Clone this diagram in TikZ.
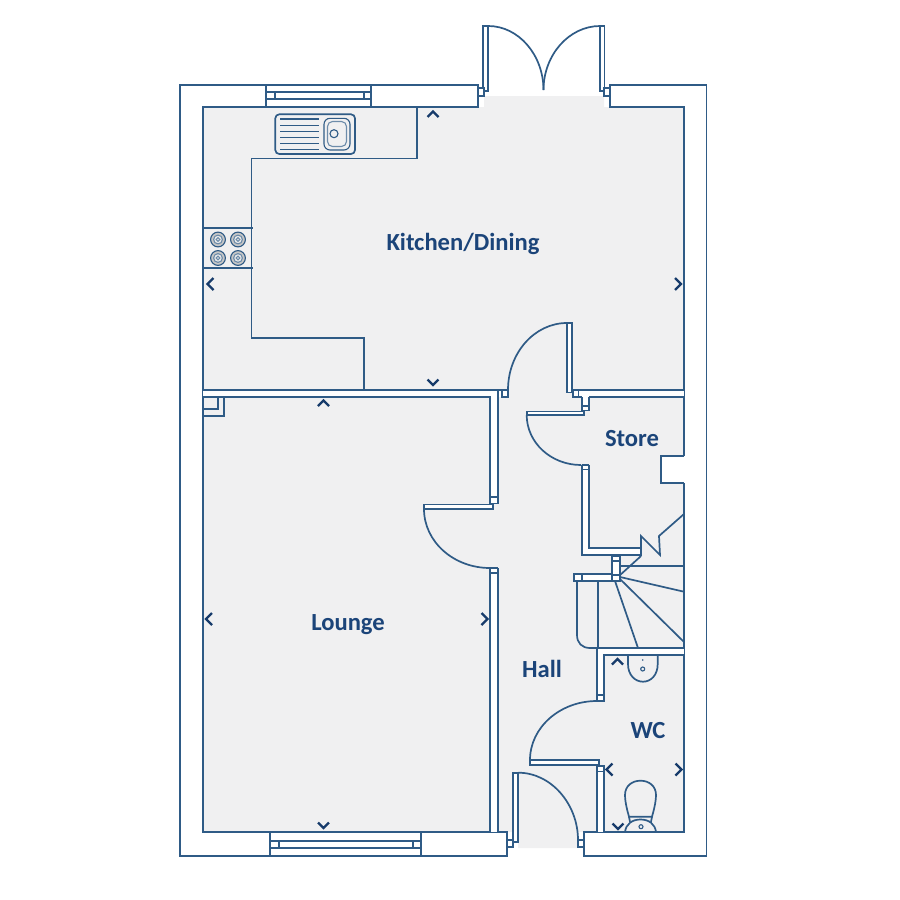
\documentclass[tikz,border=0pt]{standalone}
\usepackage{fontspec}
\setmainfont{Carlito}
\definecolor{wallc}{HTML}{2F5B86}
\definecolor{greyc}{HTML}{F0F0F1}
\definecolor{textc}{HTML}{1B4479}
\definecolor{chevc}{HTML}{173B6B}
\tikzset{
  line/.style={draw=wallc,line width=1.7pt,line join=miter},
  wall/.style={line,fill=white},
  thin/.style={draw=wallc,line width=1.1pt},
  chev/.style={draw=chevc,line width=2.3pt},
  room/.style={text=textc,font=\bfseries\fontsize{24.6}{27}\selectfont,inner sep=0pt}
}
\begin{document}
\begin{tikzpicture}[x=1pt,y=-1pt]
\useasboundingbox (0,0) rectangle (900,900);
\fill[white] (0,0) rectangle (900,900);
% floor
\fill[greyc] (203,107) -- (484,107) -- (484,96) -- (604,96) -- (604,107) -- (684,107) -- (684,832) -- (578,832) -- (578,848) -- (518,848) -- (518,832) -- (203,832) -- cycle;
% outer wall
\draw[line] (477.7,85) -- (180,85) -- (180,856) -- (506.7,856) -- (506.7,832) -- (203,832) -- (203,107) -- (477.7,107) -- cycle;
\draw[line] (610,85) -- (706.5,85) -- (706.5,856) -- (584,856) -- (584,832) -- (684,832) -- (684,107) -- (610,107) -- cycle;
% top window
\draw[line] (266.3,85) -- (266.3,107) (371.3,85) -- (371.3,107) (266.3,92.3) -- (371.3,92.3) (266.3,99.3) -- (371.3,99.3) (275,92.3) -- (275,99.3) (364,92.3) -- (364,99.3);
% bottom window
\draw[line] (270,832) -- (270,856) (421,832) -- (421,856) (270,841) -- (421,841) (270,847.7) -- (421,847.7) (279,841) -- (279,847.7) (413,841) -- (413,847.7);
% french doors
\draw[wall] (483.3,26) rectangle (488.3,91);
\draw[wall] (600,26) rectangle (604.6,91);
\draw[wall] (477.7,88) rectangle (484,96);
\draw[wall] (604,88) rectangle (610,96);
\draw[line] (488.3,26) .. controls (518.6,26) and (543.5,55) .. (543.5,90);
\draw[line] (600,26) .. controls (569,26) and (543.5,55) .. (543.5,90);
% kitchen units
\draw[line] (417.3,107) -- (417.3,158.5) -- (251.5,158.5) -- (251.5,338) -- (364,338) -- (364,390);
\draw[line] (203,227.7) -- (253,227.7) (203,268.3) -- (253,268.3);
\foreach \cx/\cy in {218/239.5,238/239.5,218/258,238/258}{
  \draw[thin,fill=gray!45] (\cx,\cy) circle (7.4);
  \draw[thin,draw=wallc!70,fill=gray!15] (\cx,\cy) circle (4.4);
  \draw[thin,draw=wallc!70] (\cx,\cy) circle (1.8);
}
% sink
\draw[line,rounded corners=4pt] (275.3,114.3) rectangle (355,154);
\foreach \dy in {119,125.7,131.7,137.3,143.3,149.3}{\draw[thin] (280,\dy) -- (319,\dy);}
\draw[thin,rounded corners=6pt] (324,118.3) rectangle (350,150);
\draw[thin,draw=wallc!70,rounded corners=5pt] (327.5,121.5) rectangle (346.5,146.5);
\draw[thin] (334,133.7) circle (4);
% kitchen/lounge wall
\path[fill=white] (203,390) rectangle (502,397);
\path[fill=white] (490,397) rectangle (497.7,497);
\draw[line] (203,390) -- (502,390) (203,397) -- (490,397) -- (490,497) (497.7,397) -- (497.7,497) (497.7,390) -- (497.7,397);
\draw[wall] (502,390) rectangle (508,397);
\draw[line,line width=2.2pt] (203,390) -- (502,390);
% cupboard corner
\draw[line] (203,416) -- (224.3,416) -- (224.3,397);
\draw[line] (203,409) -- (217.7,409) -- (217.7,397);
% lounge door
\draw[wall] (490,497) rectangle (497.7,503.5);
\draw[wall] (424,504.5) rectangle (493,509);
\draw[line] (424,509) .. controls (424,541.6) and (453.5,568) .. (490,568);
\path[fill=white] (490,568) rectangle (497.7,832);
\draw[line] (490,568) -- (490,832) (497.7,568) -- (497.7,832) (490,568) -- (497.7,568) (490,573) -- (497.7,573);
% kitchen door
\draw[line] (508,390) .. controls (508,353) and (534.4,323) .. (567,323);
\draw[wall] (566.7,323) rectangle (571.7,392.5);
\draw[wall] (572.7,390) rectangle (579,397);
% store north wall
\path[fill=white] (579,390) rectangle (684,397);
\path[fill=white] (581.7,397) rectangle (589,406);
\draw[line] (579,390) -- (684,390) (589,397) -- (684,397) (581.7,397) -- (579,397) (581.7,397) -- (581.7,406) (589,397) -- (589,406);
\draw[wall] (582,406) rectangle (589,410.5);
% store door
\draw[wall] (526.7,411.5) rectangle (584.3,415);
\draw[line] (526.7,415) .. controls (526.7,442.6) and (551,465) .. (581,465);
% store west wall
\path[fill=white] (581.7,465) rectangle (589.3,555);
\path[fill=white] (581.7,548.3) rectangle (641,555);
\draw[line] (581.7,465) -- (589.3,465) (581.7,469.5) -- (589.3,469.5) (581.7,465) -- (581.7,555) -- (641,555) (589.3,465) -- (589.3,548.3) -- (641,548.3);
% chimney notch
\path[fill=white] (661,456) rectangle (686,483);
\draw[line] (684,456) -- (661,456) -- (661,483) -- (684,483);
% stairs
\draw[line] (641,556) -- (641,536) -- (660,555) -- (659,536) -- (684,514);
\draw[line] (641,556) -- (619,576);
\draw[line] (620,565.7) -- (684,565.7);
\draw[wall] (612.3,556) rectangle (620,561);
\draw[wall] (612.3,561) rectangle (620,575);
\draw[wall] (574,574.3) rectangle (612.3,580.7);
\draw[line] (581.7,574.3) -- (581.7,580.7);
\draw[wall] (612.3,575) rectangle (620,580.7);
\draw[line] (620,577) -- (684,591.7) (620,579) -- (684,642) (615,581) -- (638,648);
\draw[line] (597.7,581) -- (597.7,648);
\draw[line] (577,581) -- (577,635) .. controls (577,643) and (582,648) .. (590,648) -- (684,648);
% stair/WC wall
\path[fill=white] (596.7,648) rectangle (684,655);
\path[fill=white] (596.7,655) rectangle (604.3,695);
\draw[line] (684,648) -- (596.7,648) -- (596.7,695) (684,655) -- (604.3,655) -- (604.3,695);
\draw[wall] (596.7,695) rectangle (604.3,701);
% WC door
\draw[line] (597,701) .. controls (560,701) and (530,727.4) .. (530,760);
\draw[wall] (530,760) rectangle (599,765);
\draw[wall] (597,766) rectangle (604.3,772);
\path[fill=white] (597,772) rectangle (604.3,832);
\draw[line] (597,772) -- (597,832) (604.3,772) -- (604.3,832);
% front door
\draw[wall] (513.3,772.7) rectangle (518.3,842);
\draw[wall] (506.7,840) rectangle (513,847);
\draw[wall] (577.7,840) rectangle (584,847);
\draw[line] (518.3,772.7) .. controls (551,772.7) and (578,804) .. (578,840);
% WC basin
\draw[line] (628,655) -- (628,664) .. controls (628,675) and (635,681.7) .. (643,681.7) .. controls (651,681.7) and (657.7,675) .. (657.7,664) -- (657.7,655);
\draw[thin] (642.7,669) circle (2);
\fill[wallc] (642.7,660) circle (0.9);
% toilet
\draw[line] (629,816.7) .. controls (626,806) and (625,800) .. (625,795) .. controls (625,786) and (632,780.7) .. (640.5,780.7) .. controls (649,780.7) and (656,786) .. (656,795) .. controls (656,800) and (655,806) .. (652,816.7) -- cycle;
\draw[line] (629,816.7) -- (630,821.7) (652,816.7) -- (651,821.7);
\draw[line] (625,832) .. controls (626,824) and (632,819.5) .. (640.5,819.5) .. controls (649,819.5) and (655,824) .. (656,832);
\draw[thin] (641,826.7) circle (2);
% chevrons
\draw[chev] (427.5,117) -- (433,111.5) -- (438.5,117);
\draw[chev] (213.5,278) -- (207.5,284) -- (213.5,290);
\draw[chev] (675,278) -- (681,284) -- (675,290);
\draw[chev] (427.5,379.5) -- (433,385) -- (438.5,379.5);
\draw[chev] (318,406) -- (323.5,400.5) -- (329,406);
\draw[chev] (212,613) -- (206,619) -- (212,625);
\draw[chev] (481.5,613) -- (487.5,619) -- (481.5,625);
\draw[chev] (318,822.5) -- (323.5,828) -- (329,822.5);
\draw[chev] (612,664.5) -- (617.5,659) -- (623,664.5);
\draw[chev] (612.5,763.5) -- (606.5,769.5) -- (612.5,775.5);
\draw[chev] (675.5,763.5) -- (681.5,769.5) -- (675.5,775.5);
\draw[chev] (612.5,823.5) -- (618,829) -- (623.5,823.5);
% labels
\node[room] (kitchen) at (463,244) {Kitchen/Dining};
\node[room] (lounge) at (348,625) {Lounge};
\node[room] (hall) at (542,669) {Hall};
\node[room] (store) at (632,439) {Store};
\node[room] (wc) at (648,731) {WC};
\end{tikzpicture}
\end{document}
